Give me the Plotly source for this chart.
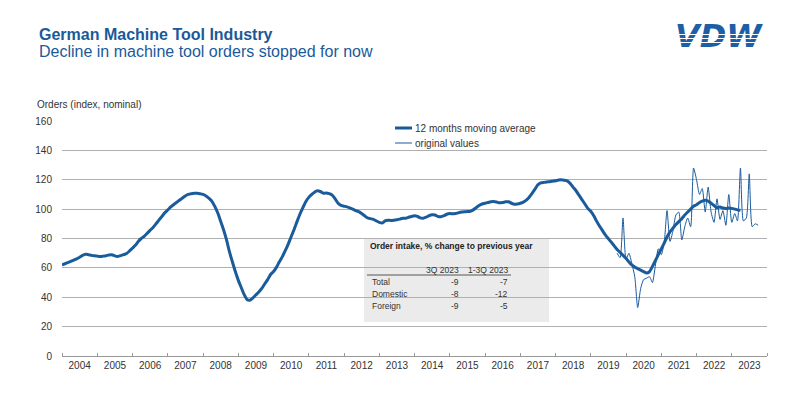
import pandas as pd
import plotly.graph_objects as go

# ---------------- data ----------------
ma_start = "2004-01-01"
ma_values = [
    62.0, 62.8, 63.6, 64.4, 65.3, 66.2, 67.2, 68.5, 69.3, 69.0, 68.5, 68.2,   # 2004
    68.0, 67.8, 68.0, 68.3, 68.8, 69.0, 68.2, 67.8, 68.3, 69.0, 69.8, 71.5,   # 2005
    73.5, 75.5, 78.0, 80.0, 81.5, 83.5, 85.5, 87.5, 90.0, 92.5, 95.0, 97.5,   # 2006
    99.5, 101.5, 103.0, 104.5, 106.0, 107.5, 109.0, 110.0, 110.5, 110.8, 110.8, 110.5,  # 2007
    110.0, 109.0, 107.5, 105.5, 102.0, 97.5, 92.0, 86.0, 79.0, 71.0, 64.0, 57.5,  # 2008
    51.5, 46.5, 42.0, 38.5, 38.0, 39.5, 41.5, 43.5, 46.0, 49.0, 52.0, 55.5,   # 2009
    57.5, 60.5, 64.0, 67.5, 71.5, 76.0, 81.0, 86.0, 91.5, 96.5, 101.0, 105.0,  # 2010
    108.0, 110.0, 111.5, 112.5, 112.0, 110.8, 111.0, 110.5, 109.5, 107.0, 104.0, 102.5,  # 2011
    102.0, 101.5, 100.8, 100.0, 99.0, 98.3, 97.0, 95.5, 94.0, 93.5, 93.0, 92.0,  # 2012
    91.0, 90.5, 92.0, 92.5, 92.3, 92.5, 92.8, 93.2, 93.8, 93.8, 94.5, 95.0,   # 2013
    95.5, 95.0, 94.0, 93.8, 94.5, 95.5, 96.2, 96.0, 95.0, 94.8, 95.5, 96.5,   # 2014
    97.0, 96.8, 97.0, 97.5, 98.0, 98.2, 98.3, 98.5, 99.5, 101.0, 102.5, 103.5,  # 2015
    104.0, 104.5, 105.0, 105.2, 104.8, 104.3, 104.5, 105.0, 105.0, 104.0, 103.3, 103.5,  # 2016
    104.0, 104.8, 106.0, 108.0, 110.5, 113.5, 116.5, 117.8, 118.2, 118.5, 118.7, 119.0,  # 2017
    119.3, 119.8, 120.0, 119.7, 119.2, 117.5, 115.0, 112.5, 109.5, 106.5, 103.5, 100.5,  # 2018
    98.5, 95.5, 92.0, 88.5, 85.5, 82.5, 80.0, 77.5, 75.0, 72.5, 70.5, 68.5,   # 2019
    66.5, 64.0, 62.0, 60.5, 59.5, 58.5, 57.5, 56.5, 57.5, 61.0, 65.0, 69.0,   # 2020
    73.0, 77.0, 81.0, 84.5, 87.0, 89.5, 91.5, 93.5, 96.0, 98.0, 100.0, 102.0,  # 2021
    103.0, 104.5, 105.5, 106.0, 105.5, 104.0, 102.5, 101.0, 101.5, 100.8, 100.5, 100.8,  # 2022
    100.5, 100.0, 99.5, 99.2,                                                  # 2023
]

orig_start = "2019-10-01"
orig_values = [
    70, 67, 94,                                        # 2019 Oct-Dec
    66, 70, 63, 54, 33, 46, 52, 53, 54, 50, 62, 73,    # 2020
    69, 78, 99, 78, 85, 96, 98, 79, 88, 94, 88, 128,   # 2021
    120, 110, 114, 98, 115, 98, 91, 107, 93, 99, 89, 110,  # 2022
    91, 97, 92, 128, 92, 94, 124, 88, 90, 89,          # 2023 Jan-Oct
]

series_names = ["12 months moving average", "original values"]
y_ticks = [0, 20, 40, 60, 80, 100, 120, 140, 160]

table_title = "Order intake, % change to previous year"
table_cols = ["3Q 2023", "1-3Q 2023"]
table_rows = ["Total", "Domestic", "Foreign"]
q3_2023 = [-9, -8, -9]
q1_3_2023 = [-7, -12, -5]

# ---------------- figure ----------------
BLUE = "#1a5b9c"
FONT = "Liberation Sans, Arial, sans-serif"
L, R, T, B = 62, 767, 121, 356


def px(x):
    return (x - L) / (R - L)


def py(y):
    return (B - y) / (B - T)


ma_dates = pd.date_range(ma_start, periods=len(ma_values), freq="MS")
orig_dates = pd.date_range(orig_start, periods=len(orig_values), freq="MS")

fig = go.Figure()
fig.add_trace(go.Scatter(x=orig_dates, y=orig_values, mode="lines", name=series_names[1],
                         line=dict(color=BLUE, width=1, shape="spline", smoothing=0.6),
                         showlegend=False))
fig.add_trace(go.Scatter(x=ma_dates, y=ma_values, mode="lines", name=series_names[0],
                         line=dict(color=BLUE, width=3, shape="spline", smoothing=0.6),
                         showlegend=False))

fig.update_layout(
    width=800, height=400,
    margin=dict(l=L, r=800 - R, t=T, b=400 - B, pad=0),
    paper_bgcolor="white", plot_bgcolor="white",
    font=dict(family=FONT, color="#333333", size=10),
    showlegend=False,
)
fig.update_xaxes(
    type="date", range=["2004-01-01", "2024-01-01"],
    dtick="M12", tick0="2004-01-01", tickformat="%Y", ticklabelmode="period",
    ticks="inside", ticklen=3, tickcolor="#999999",
    showline=True, linecolor="#999999", linewidth=1,
    showgrid=False, zeroline=False,
    tickfont=dict(size=10, color="#333333", family=FONT),
)
fig.update_yaxes(
    range=[0, 160], tickvals=y_ticks,
    showgrid=True, gridcolor="#b0b0b0", gridwidth=1,
    zeroline=False, showline=False, ticks="",
    tickfont=dict(size=10, color="#333333", family=FONT),
    ticklabelstandoff=9,
)

ann = []
shapes = []

# titles
ann.append(dict(text="<b>German Machine Tool Industry</b>", x=px(37), y=py(34), xref="paper", yref="paper",
                xanchor="left", yanchor="middle", showarrow=False,
                font=dict(size=16, color="#1a5a9a", family=FONT)))
ann.append(dict(text="Decline in machine tool orders stopped for now", x=px(37), y=py(52), xref="paper",
                yref="paper", xanchor="left", yanchor="middle", showarrow=False,
                font=dict(size=16, color="#1a5a9a", family=FONT)))
ann.append(dict(text="Orders (index, nominal)", x=px(35), y=py(104), xref="paper", yref="paper",
                xanchor="left", yanchor="middle", showarrow=False,
                font=dict(size=10, color="#333333", family=FONT)))

# logo
ann.append(dict(text="<b><i>VDW</i></b>", x=px(719), y=py(36), xref="paper", yref="paper",
                xanchor="center", yanchor="middle", showarrow=False,
                font=dict(size=32, color="#1d5fa6", family="DejaVu Sans")))
for yy in (35.0, 38.5, 42.0):
    ann.append(dict(text=" ", x=px(719), y=py(yy), xref="paper", yref="paper",
                    xanchor="center", yanchor="middle", showarrow=False,
                    width=104, height=1, bgcolor="white", borderpad=0, borderwidth=0,
                    font=dict(size=1)))

# legend (manual)
for i, (name, w) in enumerate(zip(series_names, [3, 1])):
    yy = 128 + 15 * i
    shapes.append(dict(type="line", xref="paper", yref="paper", x0=px(395), x1=px(412),
                       y0=py(yy), y1=py(yy), line=dict(color=BLUE, width=w)))
    ann.append(dict(text=name, x=px(413), y=py(yy), xref="paper", yref="paper",
                    xanchor="left", yanchor="middle", showarrow=False,
                    font=dict(size=10, color="#333333", family=FONT)))

# table box
shapes.append(dict(type="rect", xref="paper", yref="paper", x0=px(364), x1=px(549),
                   y0=py(238), y1=py(322), fillcolor="#ebebeb", line=dict(width=0), layer="between"))
ann.append(dict(text="<b>" + table_title + "</b>", x=px(368), y=py(245.5), xref="paper", yref="paper",
                xanchor="left", yanchor="middle", showarrow=False,
                font=dict(size=8.5, color="#222222", family=FONT)))
col_x = [461, 510]
for cx, c in zip(col_x, table_cols):
    ann.append(dict(text=c, x=px(cx), y=py(270), xref="paper", yref="paper",
                    xanchor="right", yanchor="middle", showarrow=False,
                    font=dict(size=8.5, color="#333333", family=FONT)))
shapes.append(dict(type="line", xref="paper", yref="paper", x0=px(367), x1=px(511),
                   y0=py(275), y1=py(275), line=dict(color="#555555", width=1), layer="above"))
row_y = [282, 294, 306]
for ry, name, a, b in zip(row_y, table_rows, q3_2023, q1_3_2023):
    ann.append(dict(text=name, x=px(370), y=py(ry), xref="paper", yref="paper",
                    xanchor="left", yanchor="middle", showarrow=False,
                    font=dict(size=8.5, color="#333333", family=FONT)))
    for cx, v in zip(col_x, (a, b)):
        ann.append(dict(text=str(v), x=px(cx), y=py(ry), xref="paper", yref="paper",
                        xanchor="right", yanchor="middle", showarrow=False,
                        font=dict(size=8.5, color="#333333", family=FONT)))

fig.update_layout(annotations=ann, shapes=shapes)
fig.write_html("out.html")
